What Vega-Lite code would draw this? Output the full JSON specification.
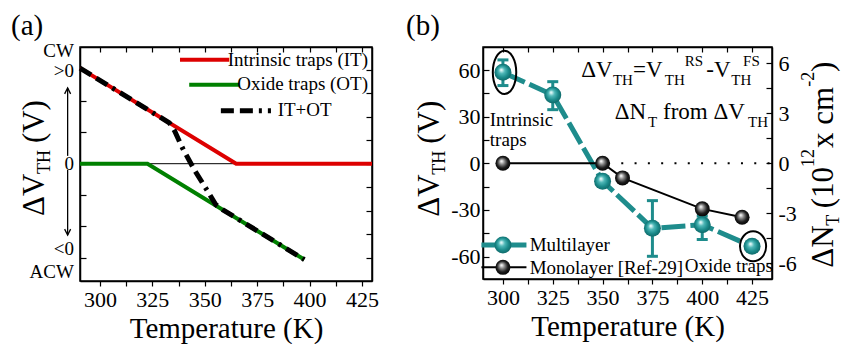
{
  "$schema": "https://vega.github.io/schema/vega-lite/v6.json",
  "background": "white",
  "padding": {"left": 10, "top": 10, "right": 0, "bottom": 0},
  "autosize": {"type": "pad"},
  "spacing": 24,
  "datasets": {
    "a_zero": [{"T": 290.5, "T2": 429.8, "V": 0}],
    "a_it": [{"T": 290.5, "V": 3.05}, {"T": 365, "V": 0}, {"T": 429.8, "V": 0}],
    "a_ot": [{"T": 290.5, "V": 0}, {"T": 322.7, "V": 0}, {"T": 397.5, "V": -3.06}],
    "a_sum": [{"T": 290.5, "V": 3.05}, {"T": 333.1, "V": 1.306}, {"T": 335.6, "V": 1.05}, {"T": 339.4, "V": 0.5}, {"T": 345.0, "V": -0.19}, {"T": 351.4, "V": -0.88}, {"T": 355.3, "V": -1.31}, {"T": 358.5, "V": -1.465}, {"T": 397.5, "V": -3.06}],
    "a_leg_it": [{"T": 338.2, "T2": 361.7, "V": 3.32}],
    "a_leg_ot": [{"T": 342.6, "T2": 366.5, "V": 2.52}],
    "a_leg_sum": [{"T": 357.7, "T2": 381.6, "V": 1.69}],
    "a_ylab": [{"T": 287.6, "V": 3.61, "label": "CW"}, {"T": 287.6, "V": 2.97, "label": ">0"}, {"T": 287.6, "V": 0, "label": "0"}, {"T": 287.6, "V": -2.72, "label": "<0"}, {"T": 287.6, "V": -3.46, "label": "ACW"}],
    "a_legtxt_r": [{"T": 427.9, "V": 3.13, "label": "Intrinsic traps (IT)"}, {"T": 427.9, "V": 2.36, "label": "Oxide traps (OT)"}],
    "a_legtxt_l": [{"T": 384.8, "V": 1.51, "label": "IT+OT"}],
    "a_lbl": [{"T": 257.6, "V": 4.858, "label": "(a)"}],
    "a_ytitle": [{"T": 273.3, "V": -1.669, "label": "ΔV"}, {"T": 273.3, "V": 0.657, "label": "(V)"}],
    "a_ytitle_sub": [{"T": 276.2, "V": -0.33, "label": "TH"}],
    "a_arrows": [{"T": 284.6, "V": 0.25, "V2": 2.42}, {"T": 284.6, "V": -0.2, "V2": -2.28}],
    "a_head_up": [{"T": 284.6, "V": 2.42}],
    "a_head_dn": [{"T": 284.6, "V": -2.28}],
    "b_dot": [{"T": 352.7, "T2": 435}],
    "b_ml": [{"T": 300, "V": 58.5, "lo": 50, "hi": 66.5}, {"T": 325, "V": 44, "lo": 34.5, "hi": 52.5}, {"T": 350, "V": -11.5, "lo": -14, "hi": -9}, {"T": 375, "V": -41.8, "lo": -59.8, "hi": -24}, {"T": 400, "V": -39.5, "lo": -49, "hi": -34}, {"T": 425, "V": -53.4, "lo": -56, "hi": -51}],
    "b_mono": [{"T": 300, "V": 0}, {"T": 350, "V": 0}, {"T": 360, "V": -9.4}, {"T": 400, "V": -29.3}, {"T": 420, "V": -34.7}],
    "b_leg_ml_line": [{"T": 289.2, "T2": 311.8, "V": -52.5}],
    "b_leg_mono_line": [{"T": 289.2, "T2": 311.8, "V": -66.9}],
    "b_leg_ml_pt": [{"T": 300, "V": -52.5}],
    "b_leg_mono_pt": [{"T": 300, "V": -66.9}],
    "b_ell1": [{"T": 300.8, "V": 58.5}],
    "b_ell2": [{"T": 425.5, "V": -53.4}],
    "b_f_main": [{"T": 339.3, "V": 55.3, "label": "ΔV"}, {"T": 365.3, "V": 55.3, "label": "=V"}, {"T": 402.0, "V": 55.3, "label": "-V"}, {"T": 356.1, "V": 28.6, "label": "ΔN"}, {"T": 380.3, "V": 28.6, "label": "from ΔV"}],
    "b_f_small": [{"T": 355.2, "V": 50.6, "label": "TH"}, {"T": 381.2, "V": 50.6, "label": "TH"}, {"T": 414.6, "V": 50.6, "label": "TH"}, {"T": 391.2, "V": 62.8, "label": "RS"}, {"T": 420.5, "V": 62.8, "label": "FS"}, {"T": 372.8, "V": 23.2, "label": "T"}, {"T": 423.0, "V": 23.2, "label": "TH"}],
    "b_txt": [{"T": 293.4, "V": 23.8, "label": "Intrinsic"}, {"T": 293.4, "V": 11.4, "label": "traps"}, {"T": 391.2, "V": -70.1, "label": "Oxide traps"}, {"T": 313.4, "V": -56.1, "label": "Multilayer"}, {"T": 313.4, "V": -71.1, "label": "Monolayer [Ref-29]"}],
    "b_lbl": [{"T": 251.4, "V": 97.6, "label": "(b)"}],
    "b_ytitle": [{"T": 267.9, "V": -34.3, "label": "ΔV"}, {"T": 267.9, "V": 12.6, "label": "(V)"}],
    "b_ytitle_sub": [{"T": 270.9, "V": -7.3, "label": "TH"}],
    "b_rtitle": [{"T": 465.6, "V": -67.1, "label": "ΔN"}, {"T": 465.6, "V": -28.9, "label": "(10"}, {"T": 465.6, "V": 9.9, "label": "x cm"}, {"T": 465.6, "V": 58.8, "label": ")"}],
    "b_rtitle_small": [{"T": 468.6, "V": -40.1, "label": "T"}, {"T": 456.1, "V": -2.3, "label": "12"}, {"T": 456.1, "V": 49.2, "label": "-2"}]
  },
  "hconcat": [
    {
      "width": 292,
      "height": 234,
      "encoding": {
        "x": {"field": "T", "type": "quantitative", "scale": {"domain": [290.5, 429.8], "nice": false, "zero": false}, "axis": null},
        "y": {"field": "V", "type": "quantitative", "scale": {"domain": [-3.744, 3.725], "nice": false, "zero": false}, "axis": null}
      },
      "resolve": {"axis": {"x": "independent", "y": "independent"}},
      "layer": [
        {
          "data": {"name": "a_zero"},
          "mark": {"type": "rule", "color": "black", "strokeWidth": 1},
          "encoding": {
            "x2": {"field": "T2"},
            "y": {"field": "V", "type": "quantitative", "axis": {"orient": "left", "values": [-3, -2, -1, 0, 1, 2, 3], "labels": false, "tickSize": -6, "title": null}}
          }
        },
        {
          "data": {"name": "a_it"},
          "mark": {"type": "line", "color": "#dd0000", "strokeWidth": 4},
          "encoding": {
            "x": {"field": "T", "type": "quantitative", "axis": {"orient": "bottom", "values": [300, 312.5, 325, 337.5, 350, 362.5, 375, 387.5, 400, 412.5, 425], "labelExpr": "datum.value % 25 === 0 ? datum.label : ''", "tickSize": 5, "labelPadding": 3, "title": "Temperature (K)", "titlePadding": 4}},
            "y": {"field": "V", "type": "quantitative", "axis": {"orient": "right", "values": [-3, -2.25, -1.5, -0.75, 0, 0.75, 1.5, 2.25, 3], "labels": false, "tickSize": -6, "title": null}}
          }
        },
        {
          "data": {"name": "a_ot"},
          "mark": {"type": "line", "color": "#008000", "strokeWidth": 4},
          "encoding": {
            "x": {"field": "T", "type": "quantitative", "axis": {"orient": "top", "values": [300, 312.5, 325, 337.5, 350, 362.5, 375, 387.5, 400, 412.5, 425], "labels": false, "tickSize": -5, "title": null}}
          }
        },
        {
          "data": {"name": "a_sum"},
          "mark": {"type": "line", "color": "black", "strokeWidth": 5, "strokeDash": [13, 6, 13, 6, 3, 6]}
        },
        {
          "data": {"name": "a_leg_it"},
          "mark": {"type": "rule", "color": "#dd0000", "strokeWidth": 4},
          "encoding": {"x2": {"field": "T2"}}
        },
        {
          "data": {"name": "a_leg_ot"},
          "mark": {"type": "rule", "color": "#008000", "strokeWidth": 4},
          "encoding": {"x2": {"field": "T2"}}
        },
        {
          "data": {"name": "a_leg_sum"},
          "mark": {"type": "rule", "color": "black", "strokeWidth": 5, "strokeDash": [13, 6, 13, 6, 3, 6]},
          "encoding": {"x2": {"field": "T2"}}
        },
        {
          "data": {"name": "a_ylab"},
          "mark": {"type": "text", "font": "Liberation Serif", "fontSize": 19, "align": "right", "baseline": "middle", "color": "black"},
          "encoding": {"text": {"field": "label"}}
        },
        {
          "data": {"name": "a_legtxt_r"},
          "mark": {"type": "text", "font": "Liberation Serif", "fontSize": 19, "align": "right", "baseline": "alphabetic", "color": "black"},
          "encoding": {"text": {"field": "label"}}
        },
        {
          "data": {"name": "a_legtxt_l"},
          "mark": {"type": "text", "font": "Liberation Serif", "fontSize": 19, "align": "left", "baseline": "alphabetic", "color": "black"},
          "encoding": {"text": {"field": "label"}}
        },
        {
          "data": {"name": "a_lbl"},
          "mark": {"type": "text", "font": "Liberation Serif", "fontSize": 29, "align": "left", "baseline": "top", "color": "black"},
          "encoding": {"text": {"field": "label"}}
        },
        {
          "data": {"name": "a_ytitle"},
          "mark": {"type": "text", "font": "Liberation Serif", "fontSize": 31, "align": "left", "baseline": "alphabetic", "angle": 270, "color": "black"},
          "encoding": {"text": {"field": "label"}}
        },
        {
          "data": {"name": "a_ytitle_sub"},
          "mark": {"type": "text", "font": "Liberation Serif", "fontSize": 18, "align": "left", "baseline": "alphabetic", "angle": 270, "color": "black"},
          "encoding": {"text": {"field": "label"}}
        },
        {
          "data": {"name": "a_arrows"},
          "mark": {"type": "rule", "color": "black", "strokeWidth": 1.3},
          "encoding": {"y2": {"field": "V2"}}
        },
        {
          "data": {"name": "a_head_up"},
          "mark": {"type": "point", "shape": "M-0.5,1L0,0L0.5,1", "size": 144, "filled": false, "stroke": "black", "strokeWidth": 1.3, "opacity": 1}
        },
        {
          "data": {"name": "a_head_dn"},
          "mark": {"type": "point", "shape": "M-0.5,-1L0,0L0.5,-1", "size": 144, "filled": false, "stroke": "black", "strokeWidth": 1.3, "opacity": 1}
        }
      ]
    },
    {
      "width": 289,
      "height": 232,
      "resolve": {"scale": {"y": "independent"}, "axis": {"x": "independent", "y": "independent"}},
      "layer": [
        {
          "data": {"name": "b_dot"},
          "mark": {"type": "rule", "color": "black", "strokeWidth": 2, "strokeDash": [2, 11.3]},
          "encoding": {
            "x": {"field": "T", "type": "quantitative", "axis": null},
            "x2": {"field": "T2"},
            "y": {"datum": 0, "type": "quantitative", "scale": {"domain": [-6.94, 6.98], "nice": false, "zero": false}, "axis": {"orient": "right", "values": [-6, -4.5, -3, -1.5, 0, 1.5, 3, 4.5, 6], "tickSize": -6, "labelPadding": 12, "labelExpr": "datum.value % 3 === 0 ? (datum.value < 0 ? '-' + abs(datum.value) : '' + datum.value) : ''", "title": null}}
          }
        },
        {
          "encoding": {
            "x": {"field": "T", "type": "quantitative", "scale": {"domain": [290, 435], "nice": false, "zero": false}, "axis": null},
            "y": {"field": "V", "type": "quantitative", "scale": {"domain": [-74.4, 74.8], "nice": false, "zero": false}, "axis": null}
          },
          "resolve": {"axis": {"x": "independent", "y": "independent"}},
          "layer": [
            {
              "data": {"name": "b_ml"},
              "mark": {"type": "line", "color": "#1e8c8c", "strokeWidth": 5, "strokeDash": [24, 5]},
              "encoding": {
                "x": {"field": "T", "type": "quantitative", "axis": {"orient": "bottom", "values": [300, 312.5, 325, 337.5, 350, 362.5, 375, 387.5, 400, 412.5, 425], "labelExpr": "datum.value % 25 === 0 ? datum.label : ''", "tickSize": 5, "labelPadding": 3, "title": "Temperature (K)", "titlePadding": 4}},
                "y": {"field": "V", "type": "quantitative", "axis": {"orient": "left", "values": [-60, -45, -30, -15, 0, 15, 30, 45, 60], "tickSize": -6, "labelPadding": 9, "labelExpr": "datum.value % 30 === 0 ? (datum.value < 0 ? '-' + abs(datum.value) : '' + datum.value) : ''", "title": null}}
              }
            },
            {
              "data": {"name": "b_ml"},
              "mark": {"type": "rule", "color": "#1e8c8c", "strokeWidth": 3},
              "encoding": {
                "y": {"field": "lo", "type": "quantitative", "axis": null},
                "y2": {"field": "hi"}
              }
            },
            {
              "data": {"name": "b_ml"},
              "mark": {"type": "point", "shape": "stroke", "size": 121, "filled": false, "stroke": "#1e8c8c", "strokeWidth": 3, "opacity": 1},
              "encoding": {"y": {"field": "lo", "type": "quantitative", "axis": null}}
            },
            {
              "data": {"name": "b_ml"},
              "mark": {"type": "point", "shape": "stroke", "size": 121, "filled": false, "stroke": "#1e8c8c", "strokeWidth": 3, "opacity": 1},
              "encoding": {"y": {"field": "hi", "type": "quantitative", "axis": null}}
            },
            {
              "data": {"name": "b_ml"},
              "mark": {"type": "point", "shape": "circle", "size": 289, "filled": true, "opacity": 1, "strokeWidth": 0,
                "fill": {"gradient": "radial", "x1": 0.4, "y1": 0.35, "r1": 0.02, "x2": 0.5, "y2": 0.5, "r2": 0.55, "stops": [{"offset": 0, "color": "#f2ffff"}, {"offset": 0.3, "color": "#4fb8b8"}, {"offset": 0.65, "color": "#1a8a8a"}, {"offset": 1, "color": "#0d6262"}]}}
            },
            {
              "data": {"name": "b_mono"},
              "mark": {"type": "line", "color": "black", "strokeWidth": 2},
              "encoding": {
                "x": {"field": "T", "type": "quantitative", "axis": {"orient": "top", "values": [300, 312.5, 325, 337.5, 350, 362.5, 375, 387.5, 400, 412.5, 425], "labels": false, "tickSize": -5, "title": null}}
              }
            },
            {
              "data": {"name": "b_mono"},
              "mark": {"type": "point", "shape": "circle", "size": 225, "filled": true, "opacity": 1, "strokeWidth": 0,
                "fill": {"gradient": "radial", "x1": 0.4, "y1": 0.35, "r1": 0.02, "x2": 0.5, "y2": 0.5, "r2": 0.55, "stops": [{"offset": 0, "color": "#ffffff"}, {"offset": 0.3, "color": "#8a8a8a"}, {"offset": 0.65, "color": "#1c1c1c"}, {"offset": 1, "color": "#000000"}]}}
            },
            {
              "data": {"name": "b_leg_ml_line"},
              "mark": {"type": "rule", "color": "#1e8c8c", "strokeWidth": 5, "strokeDash": [24, 5]},
              "encoding": {"x2": {"field": "T2"}}
            },
            {
              "data": {"name": "b_leg_mono_line"},
              "mark": {"type": "rule", "color": "black", "strokeWidth": 2},
              "encoding": {"x2": {"field": "T2"}}
            },
            {
              "data": {"name": "b_leg_ml_pt"},
              "mark": {"type": "point", "shape": "circle", "size": 289, "filled": true, "opacity": 1, "strokeWidth": 0,
                "fill": {"gradient": "radial", "x1": 0.4, "y1": 0.35, "r1": 0.02, "x2": 0.5, "y2": 0.5, "r2": 0.55, "stops": [{"offset": 0, "color": "#f2ffff"}, {"offset": 0.3, "color": "#4fb8b8"}, {"offset": 0.65, "color": "#1a8a8a"}, {"offset": 1, "color": "#0d6262"}]}}
            },
            {
              "data": {"name": "b_leg_mono_pt"},
              "mark": {"type": "point", "shape": "circle", "size": 225, "filled": true, "opacity": 1, "strokeWidth": 0,
                "fill": {"gradient": "radial", "x1": 0.4, "y1": 0.35, "r1": 0.02, "x2": 0.5, "y2": 0.5, "r2": 0.55, "stops": [{"offset": 0, "color": "#ffffff"}, {"offset": 0.3, "color": "#8a8a8a"}, {"offset": 0.65, "color": "#1c1c1c"}, {"offset": 1, "color": "#000000"}]}}
            },
            {
              "data": {"name": "b_ell1"},
              "mark": {"type": "point", "shape": "M0,-1A0.54,1,0,1,1,0,1A0.54,1,0,1,1,0,-1Z", "size": 1884, "filled": false, "stroke": "black", "strokeWidth": 2, "opacity": 1}
            },
            {
              "data": {"name": "b_ell2"},
              "mark": {"type": "point", "shape": "M0,-1A0.87,1,0,1,1,0,1A0.87,1,0,1,1,0,-1Z", "size": 900, "filled": false, "stroke": "black", "strokeWidth": 2, "opacity": 1}
            },
            {
              "data": {"name": "b_f_main"},
              "mark": {"type": "text", "font": "Liberation Serif", "fontSize": 23, "align": "left", "baseline": "alphabetic", "color": "black"},
              "encoding": {"text": {"field": "label"}}
            },
            {
              "data": {"name": "b_f_small"},
              "mark": {"type": "text", "font": "Liberation Serif", "fontSize": 15, "align": "left", "baseline": "alphabetic", "color": "black"},
              "encoding": {"text": {"field": "label"}}
            },
            {
              "data": {"name": "b_txt"},
              "mark": {"type": "text", "font": "Liberation Serif", "fontSize": 19, "align": "left", "baseline": "alphabetic", "color": "black"},
              "encoding": {"text": {"field": "label"}}
            },
            {
              "data": {"name": "b_lbl"},
              "mark": {"type": "text", "font": "Liberation Serif", "fontSize": 29, "align": "left", "baseline": "top", "color": "black"},
              "encoding": {"text": {"field": "label"}}
            },
            {
              "data": {"name": "b_ytitle"},
              "mark": {"type": "text", "font": "Liberation Serif", "fontSize": 31, "align": "left", "baseline": "alphabetic", "angle": 270, "color": "black"},
              "encoding": {"text": {"field": "label"}}
            },
            {
              "data": {"name": "b_ytitle_sub"},
              "mark": {"type": "text", "font": "Liberation Serif", "fontSize": 18, "align": "left", "baseline": "alphabetic", "angle": 270, "color": "black"},
              "encoding": {"text": {"field": "label"}}
            },
            {
              "data": {"name": "b_rtitle"},
              "mark": {"type": "text", "font": "Liberation Serif", "fontSize": 31, "align": "left", "baseline": "alphabetic", "angle": 270, "color": "black"},
              "encoding": {"text": {"field": "label"}}
            },
            {
              "data": {"name": "b_rtitle_small"},
              "mark": {"type": "text", "font": "Liberation Serif", "fontSize": 18, "align": "left", "baseline": "alphabetic", "angle": 270, "color": "black"},
              "encoding": {"text": {"field": "label"}}
            }
          ]
        }
      ]
    }
  ],
  "config": {
    "font": "Liberation Serif",
    "view": {"stroke": "black", "strokeWidth": 1.5},
    "axis": {
      "grid": false,
      "domainColor": "black",
      "domainWidth": 1.5,
      "tickColor": "black",
      "tickWidth": 1.2,
      "labelColor": "black",
      "labelFont": "Liberation Serif",
      "labelFontSize": 22,
      "labelFlush": false,
      "labelOverlap": false,
      "titleFont": "Liberation Serif",
      "titleFontSize": 29,
      "titleFontWeight": "normal",
      "titleColor": "black"
    }
  }
}
